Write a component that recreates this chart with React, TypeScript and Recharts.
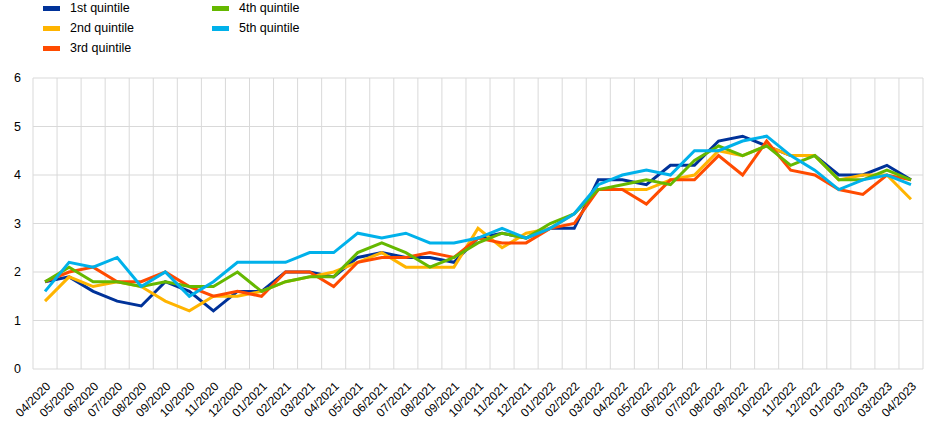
import React from "react";
import { LineChart, Line, XAxis, YAxis, CartesianGrid, ReferenceLine } from "recharts";

const months = [
  "04/2020","05/2020","06/2020","07/2020","08/2020","09/2020","10/2020","11/2020","12/2020",
  "01/2021","02/2021","03/2021","04/2021","05/2021","06/2021","07/2021","08/2021","09/2021","10/2021","11/2021","12/2021",
  "01/2022","02/2022","03/2022","04/2022","05/2022","06/2022","07/2022","08/2022","09/2022","10/2022","11/2022","12/2022",
  "01/2023","02/2023","03/2023","04/2023",
];

const q1 = [1.8,1.9,1.6,1.4,1.3,1.8,1.6,1.2,1.6,1.6,2.0,2.0,1.9,2.3,2.4,2.3,2.3,2.2,2.7,2.8,2.7,2.9,2.9,3.9,3.9,3.8,4.2,4.2,4.7,4.8,4.6,4.4,4.4,4.0,4.0,4.2,3.9];
const q2 = [1.4,1.9,1.7,1.8,1.7,1.4,1.2,1.5,1.5,1.6,1.8,1.9,2.0,2.2,2.4,2.1,2.1,2.1,2.9,2.5,2.8,2.9,3.2,3.7,3.7,3.7,3.9,4.0,4.5,4.4,4.6,4.4,4.4,3.9,4.0,4.0,3.5];
const q3 = [1.8,2.0,2.1,1.8,1.8,2.0,1.7,1.5,1.6,1.5,2.0,2.0,1.7,2.2,2.3,2.3,2.4,2.3,2.7,2.6,2.6,2.9,3.0,3.7,3.7,3.4,3.9,3.9,4.4,4.0,4.7,4.1,4.0,3.7,3.6,4.0,3.9];
const q4 = [1.8,2.1,1.8,1.8,1.7,1.8,1.7,1.7,2.0,1.6,1.8,1.9,1.9,2.4,2.6,2.4,2.1,2.3,2.6,2.8,2.7,3.0,3.2,3.7,3.8,3.9,3.8,4.3,4.6,4.4,4.6,4.2,4.4,3.9,3.9,4.1,3.9];
const q5 = [1.6,2.2,2.1,2.3,1.7,2.0,1.5,1.8,2.2,2.2,2.2,2.4,2.4,2.8,2.7,2.8,2.6,2.6,2.7,2.9,2.7,2.9,3.2,3.8,4.0,4.1,4.0,4.5,4.5,4.7,4.8,4.4,4.1,3.7,3.9,4.0,3.8];

const yTicks = [0, 1, 2, 3, 4, 5, 6];

const seriesNames = ["1st quintile", "2nd quintile", "3rd quintile", "4th quintile", "5th quintile"];
const seriesKeys = ["q1", "q2", "q3", "q4", "q5"];
const seriesColors = ["#003299", "#FFB400", "#FF4B00", "#65B800", "#00B1EA"];
const seriesValues = [q1, q2, q3, q4, q5];

const data = months.map((m, i) => {
  const row: any = { idx: i, month: m };
  seriesKeys.forEach((k, s) => {
    row[k] = seriesValues[s][i];
  });
  return row;
});

const xTicks = months.map((_, i) => i);
const boundaries = [...months.map((_, i) => i - 0.5), months.length - 0.5];

const FONT = "'Liberation Sans', Arial, sans-serif";

const XTick = (props: any) => {
  const { x, y, payload } = props;
  return (
    <g transform={`translate(${x},${y})`}>
      <text
        x={0}
        y={0}
        dy="0.72em"
        textAnchor="end"
        transform="rotate(-45)"
        fontSize={12}
        fontFamily={FONT}
        fill="#000"
      >
        {months[payload.value]}
      </text>
    </g>
  );
};

const legendLayout = [
  { col: 0, row: 0 },
  { col: 0, row: 1 },
  { col: 0, row: 2 },
  { col: 1, row: 0 },
  { col: 1, row: 1 },
];

const ChartLegend = () => (
  <div style={{ position: "absolute", left: 0, top: 0, width: 948, height: 60 }}>
    {seriesNames.map((name, i) => {
      const { col, row } = legendLayout[i];
      const left = col === 0 ? 43 : 212;
      const top = row * 20;
      return (
        <div key={name} style={{ position: "absolute", left, top, height: 16, display: "flex", alignItems: "center" }}>
          <div style={{ width: 17, height: 5, background: seriesColors[i] }} />
          <span style={{ marginLeft: 10, fontSize: 12.5, fontFamily: FONT, color: "#000", lineHeight: "16px", whiteSpace: "nowrap" }}>{name}</span>
        </div>
      );
    })}
  </div>
);

export default function App() {
  return (
    <div style={{ position: "absolute", left: 0, top: 0, width: 948, height: 426, background: "#fff" }}>
      <LineChart
        width={948}
        height={426}
        data={data}
        margin={{ top: 78, right: 25, bottom: 0, left: 0 }}
      >
        <CartesianGrid vertical={false} stroke="#d9d9d9" strokeWidth={1} />
        {boundaries.map((b) => (
          <ReferenceLine key={b} x={b} stroke="#d9d9d9" strokeWidth={1} ifOverflow="visible" />
        ))}
        <XAxis
          dataKey="idx"
          type="number"
          domain={[-0.5, months.length - 0.5]}
          ticks={xTicks}
          interval={0}
          axisLine={false}
          tickLine={false}
          tickMargin={6}
          height={57}
          tick={<XTick />}
        />
        <YAxis
          domain={[0, 6]}
          ticks={yTicks}
          interval={0}
          axisLine={false}
          tickLine={false}
          width={33}
          tickMargin={6}
          tick={{ fontSize: 12.5, fontFamily: FONT, fill: "#000" }}
        />
        {seriesKeys.map((k, i) => (
          <Line
            key={k}
            type="linear"
            dataKey={k}
            name={seriesNames[i]}
            stroke={seriesColors[i]}
            strokeWidth={3}
            dot={false}
            activeDot={false}
            isAnimationActive={false}
          />
        ))}
      </LineChart>
      <ChartLegend />
    </div>
  );
}
